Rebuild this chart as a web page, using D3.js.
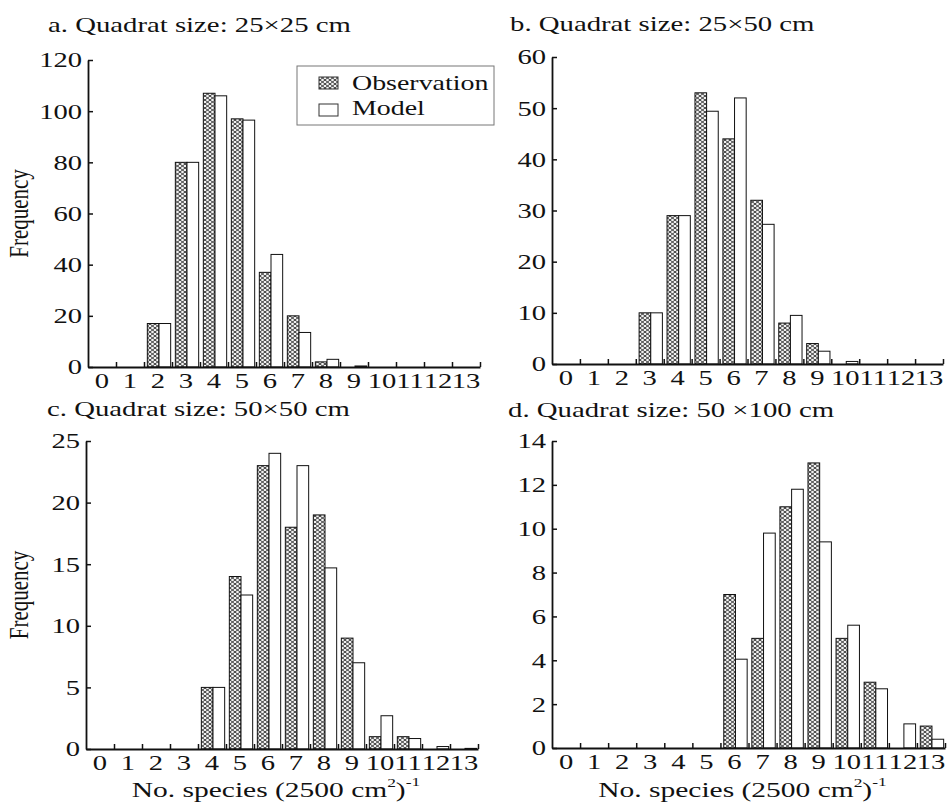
<!DOCTYPE html>
<html>
<head>
<meta charset="utf-8">
<script src="https://cdn.jsdelivr.net/npm/d3@7"></script>
<style>
  html, body { margin: 0; padding: 0; background: #fff; }
  svg { display: block; }
  text { font-family: "Liberation Serif", "DejaVu Serif", serif; fill: #111; }
</style>
</head>
<body>
<svg id="chart" width="947" height="803"></svg>
<script>
// ---- data ----
const categories = [0,1,2,3,4,5,6,7,8,9,10,11,12,13];
const seriesNames = ["Observation", "Model"];

const obsA = [0,0,17,80,107,97,37,20,2,0,0,0,0,0];
const modA = [0,0,17,80,106,96.5,44,13.5,3,0.4,0,0,0,0];
const obsB = [0,0,0,10,29,53,44,32,8,4,0,0,0,0];
const modB = [0,0,0,10,29,49.4,52,27.3,9.5,2.5,0.5,0,0,0];
const obsC = [0,0,0,0,5,14,23,18,19,9,1,1,0,0];
const modC = [0,0,0,0,5,12.5,24,23,14.7,7,2.7,0.85,0.2,0.05];
const obsD = [0,0,0,0,0,0,7,5,11,13,5,3,0,1];
const modD = [0,0,0,0,0,0,4.05,9.8,11.8,9.4,5.6,2.7,1.1,0.4];

const titles = ["a. Quadrat size: 25\u00D725 cm", "b. Quadrat size: 25\u00D750 cm",
                "c. Quadrat size: 50\u00D750 cm", "d. Quadrat size: 50 \u00D7100 cm"];
const yTicksA = [0,20,40,60,80,100,120];
const yTicksB = [0,10,20,30,40,50,60];
const yTicksC = [0,5,10,15,20,25];
const yTicksD = [0,2,4,6,8,10,12,14];
const yLabel = "Frequency";

// ---- layout ----
const SX = 1.33;       // horizontal stretch of the original artwork
const FS = 21;
const panels = [
  {obs: obsA, mod: modA, ticks: yTicksA, title: titles[0], x0: 88, x1: 480, yTop: 60, yBot: 367, titleX: 48, titleY: 32, ylab: true, xlab: false},
  {obs: obsB, mod: modB, ticks: yTicksB, title: titles[1], x0: 552, x1: 943, yTop: 57, yBot: 364, titleX: 510, titleY: 31, ylab: false, xlab: false},
  {obs: obsC, mod: modC, ticks: yTicksC, title: titles[2], x0: 86, x1: 478, yTop: 441, yBot: 749, titleX: 47, titleY: 416, ylab: true, xlab: true},
  {obs: obsD, mod: modD, ticks: yTicksD, title: titles[3], x0: 552, x1: 945, yTop: 441, yBot: 748, titleX: 508, titleY: 417, ylab: false, xlab: true}
];

const svg = d3.select("#chart");
const defs = svg.append("defs");
const pat = defs.append("pattern").attr("id", "hatch")
  .attr("patternUnits", "userSpaceOnUse").attr("width", 5).attr("height", 4);
pat.append("rect").attr("width", 5).attr("height", 4).attr("fill", "#f2f2f2");
pat.append("path").attr("d", "M0,0L5,4M5,0L0,4M-1,3.2L0,4M5,0L6,0.8")
  .attr("stroke", "#333").attr("stroke-width", 0.95);

function stext(g, x, y, str, anchor, size, sx) {
  return g.append("text")
    .attr("transform", `translate(${x},${y}) scale(${sx || SX},1)`)
    .attr("text-anchor", anchor || "start")
    .style("font-size", (size || FS) + "px")
    .text(str);
}

panels.forEach(p => {
  const g = svg.append("g");
  const xBand = d3.scaleBand().domain(categories).range([p.x0, p.x1]).padding(0);
  const xLin = d3.scaleLinear().domain([0, categories.length]).range([p.x0, p.x1]);
  const sub = d3.scaleBand().domain(seriesNames).range([0, xBand.bandwidth()])
    .paddingInner(0).paddingOuter(0.2);
  const y = d3.scaleLinear().domain([0, d3.max(p.ticks)]).range([p.yBot, p.yTop]);

  // bars
  const rows = [];
  categories.forEach((c, i) => {
    rows.push({c, s: "Observation", v: p.obs[i]});
    rows.push({c, s: "Model", v: p.mod[i]});
  });
  g.selectAll("rect.bar").data(rows.filter(d => d.v > 0)).join("rect")
    .attr("class", "bar")
    .attr("x", d => xBand(d.c) + sub(d.s) + 1)
    .attr("width", sub.bandwidth())
    .attr("y", d => y(d.v))
    .attr("height", d => y(0) - y(d.v))
    .attr("fill", d => d.s === "Observation" ? "url(#hatch)" : "#fff")
    .attr("stroke", "#111").attr("stroke-width", 1);

  // x axis: line + boundary ticks (inward)
  const xAx = g.append("g").attr("transform", `translate(0,${p.yBot})`)
    .call(d3.axisBottom(xLin).tickValues(d3.range(1, categories.length + 1))
      .tickSizeInner(-5).tickSizeOuter(0).tickFormat(""));
  xAx.select(".domain").attr("stroke", "#111").attr("stroke-width", 1.8);
  xAx.selectAll(".tick line").attr("stroke", "#111").attr("stroke-width", 1.5);

  // x labels centered in bands
  const xLab = g.append("g").attr("transform", `translate(0,${p.yBot})`)
    .call(d3.axisBottom(xBand).tickSize(0).tickPadding(0));
  xLab.select(".domain").remove();
  xLab.selectAll(".tick text")
    .attr("y", null).attr("dy", null)
    .attr("transform", `translate(0,21) scale(${SX},1)`)
    .style("font-size", "21.5px")
    .attr("fill", "#111");

  // y axis
  const yAx = g.append("g").attr("transform", `translate(${p.x0},0)`)
    .call(d3.axisLeft(y).tickValues(p.ticks).tickSizeInner(-5).tickSizeOuter(0));
  yAx.select(".domain").attr("stroke", "#111").attr("stroke-width", 1.8);
  yAx.selectAll(".tick line").attr("stroke", "#111").attr("stroke-width", 1.5);
  yAx.selectAll(".tick text")
    .attr("x", null)
    .attr("transform", `translate(-6,0) scale(${SX},1)`)
    .style("font-size", "21.5px")
    .attr("fill", "#111");

  // title
  stext(svg, p.titleX, p.titleY, p.title, "start", 21, 1.37);

  // y label
  if (p.ylab) {
    svg.append("text")
      .attr("transform", `translate(28,${(p.yTop + p.yBot) / 2}) scale(${SX},1) rotate(-90)`)
      .attr("text-anchor", "middle")
      .style("font-size", FS + "px")
      .text(yLabel);
  }
  // x label
  if (p.xlab) {
    const t = svg.append("text")
      .attr("transform", `translate(${(p.x0 + p.x1) / 2 - 6},797) scale(1.34,1)`)
      .attr("text-anchor", "middle")
      .style("font-size", "22px");
    t.append("tspan").text("No. species (2500 cm");
    t.append("tspan").attr("dy", -10).style("font-size", "13px").text("2");
    t.append("tspan").attr("dy", 10).text(")");
    t.append("tspan").attr("dy", -11).style("font-size", "13px").text("-1");
  }
});

// legend (panel a)
const lg = svg.append("g");
lg.append("rect").attr("x", 297).attr("y", 66).attr("width", 197).attr("height", 59)
  .attr("fill", "#fff").attr("stroke", "#777").attr("stroke-width", 1);
seriesNames.forEach((s, i) => {
  lg.append("rect").attr("x", 319).attr("y", 77 + i * 27).attr("width", 19).attr("height", 12)
    .attr("fill", i === 0 ? "url(#hatch)" : "#fff").attr("stroke", "#333").attr("stroke-width", 1);
  stext(lg, 352, 90 + i * 25, s, "start", FS);
});
</script>
</body>
</html>
